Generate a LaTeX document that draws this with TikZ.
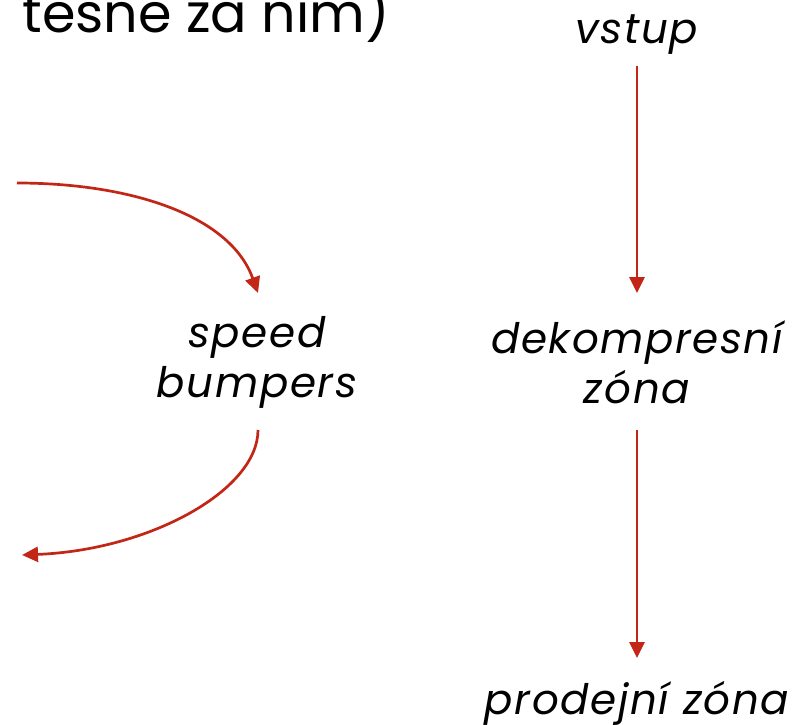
\documentclass[tikz,border=0pt]{standalone}
\usepackage{fontspec}
\setmainfont{Poppins}
\newfontfamily\lblfont[LetterSpace=3.8]{Poppins}
\usetikzlibrary{arrows.meta,calc}
\definecolor{arrred}{RGB}{194,38,22}
\tikzset{
  lbl/.style={font=\fontsize{42}{50}\lblfont\itshape, align=center, inner sep=0pt},
  toptxt/.style={font=\fontsize{54}{60}\selectfont, inner sep=0pt},
  arr/.style={draw=arrred, line width=2.7pt, -{Triangle[width=15pt,length=16pt]}}
}
\begin{document}
\begin{tikzpicture}[x=1pt,y=-1pt]
\useasboundingbox (0,0) rectangle (807,724);
\node[toptxt, anchor=base east] (top) at (390,32) {těsně za ním)};
\node[lbl, anchor=base] (vstup) at (637,43) {vstup};
\node[lbl] (dek) at (637,362) {dekompresní\\zóna};
\node[lbl] (sb) at (257,362) {speed\\bumpers};
\node[lbl, anchor=base] (prod) at (637,714) {prodejní zóna};
\coordinate (c1s) at (17,183);
\coordinate (c2e) at (22,555);
\draw[arr] ($(vstup.base)+(0,23)$) -- ($(dek.center)+(0,-69)$);
\draw[arr] (c1s) .. controls (130,183) and (230,215) .. ($(sb.center)+(1,-69)$);
\draw[arr] ($(sb.center)+(1,68)$) .. controls (258,490) and (150,550) .. (c2e);
\draw[arr] ($(dek.center)+(0,68)$) -- ($(prod.base)+(0,-56)$);
\end{tikzpicture}
\end{document}
